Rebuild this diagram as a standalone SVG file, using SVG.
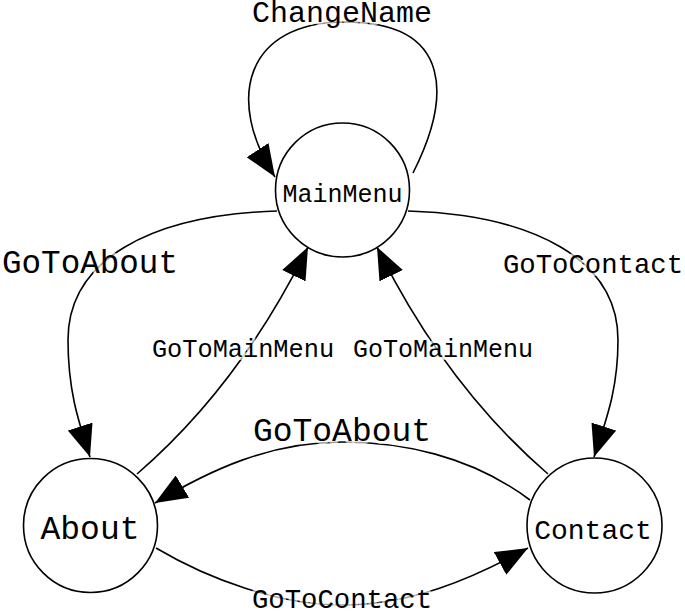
<svg xmlns="http://www.w3.org/2000/svg" width="685" height="613" viewBox="0 0 685 613">
<style>
.node{fill:#fff;stroke:#000;stroke-width:1.6}
.edge{fill:none;stroke:#000;stroke-width:1.6;marker-end:url(#ah)}
text{font-family:"Liberation Mono","Courier New",monospace;fill:#000;text-anchor:middle}
.lbl{stroke:#fff;stroke-opacity:0.65;stroke-width:6;paint-order:stroke;stroke-linejoin:round}
</style>
<defs>
<marker id="ah" markerUnits="userSpaceOnUse" markerWidth="32" markerHeight="26" viewBox="0 0 32 26" refX="32" refY="13" orient="auto">
<path d="M0,0 L32,13 L0,26 z" fill="#000"/>
</marker>
</defs>
<rect width="685" height="613" fill="#fff"/>
<g id="connectors">
<path class="edge" d="M413,173 C450,100 455,22 345,22 C245,22 225,100 275,177"/>
<path class="edge" d="M277,211 C150,215 68,260 68,340 C68,390 78,420 90,457"/>
<path class="edge" d="M408,211 C535,215 618,260 618,340 C618,390 606,420 594,457"/>
<path class="edge" d="M137,474 Q240,385 308,247"/>
<path class="edge" d="M548,474 Q445,385 377,247"/>
<path class="edge" d="M530,500 C470,455 400,442 342,442 C270,442 210,470 155,503"/>
<path class="edge" d="M156,548 C210,580 280,605 342,605 C410,605 470,580 528,548"/>
</g>
<g id="edge-labels">
<text class="lbl" x="342" y="22" font-size="30">ChangeName</text>
<text class="lbl" x="90" y="273" font-size="32.6">GoToAbout</text>
<text class="lbl" x="593" y="273" font-size="27.3">GoToContact</text>
<text class="lbl" x="243" y="357" font-size="25.3">GoToMainMenu</text>
<text class="lbl" x="443" y="357" font-size="25">GoToMainMenu</text>
<text class="lbl" x="342" y="441" font-size="33">GoToAbout</text>
<text class="lbl" x="342" y="608" font-size="27.3">GoToContact</text>
</g>
<g id="MainMenu">
<circle class="node" cx="342.5" cy="190" r="67"/>
<text x="342.5" y="202" font-size="25">MainMenu</text>
</g>
<g id="About">
<circle class="node" cx="90.5" cy="525.5" r="67"/>
<text x="90" y="539" font-size="33">About</text>
</g>
<g id="Contact">
<circle class="node" cx="594.5" cy="525.5" r="67.5"/>
<text x="593" y="539" font-size="28">Contact</text>
</g>
</svg>
